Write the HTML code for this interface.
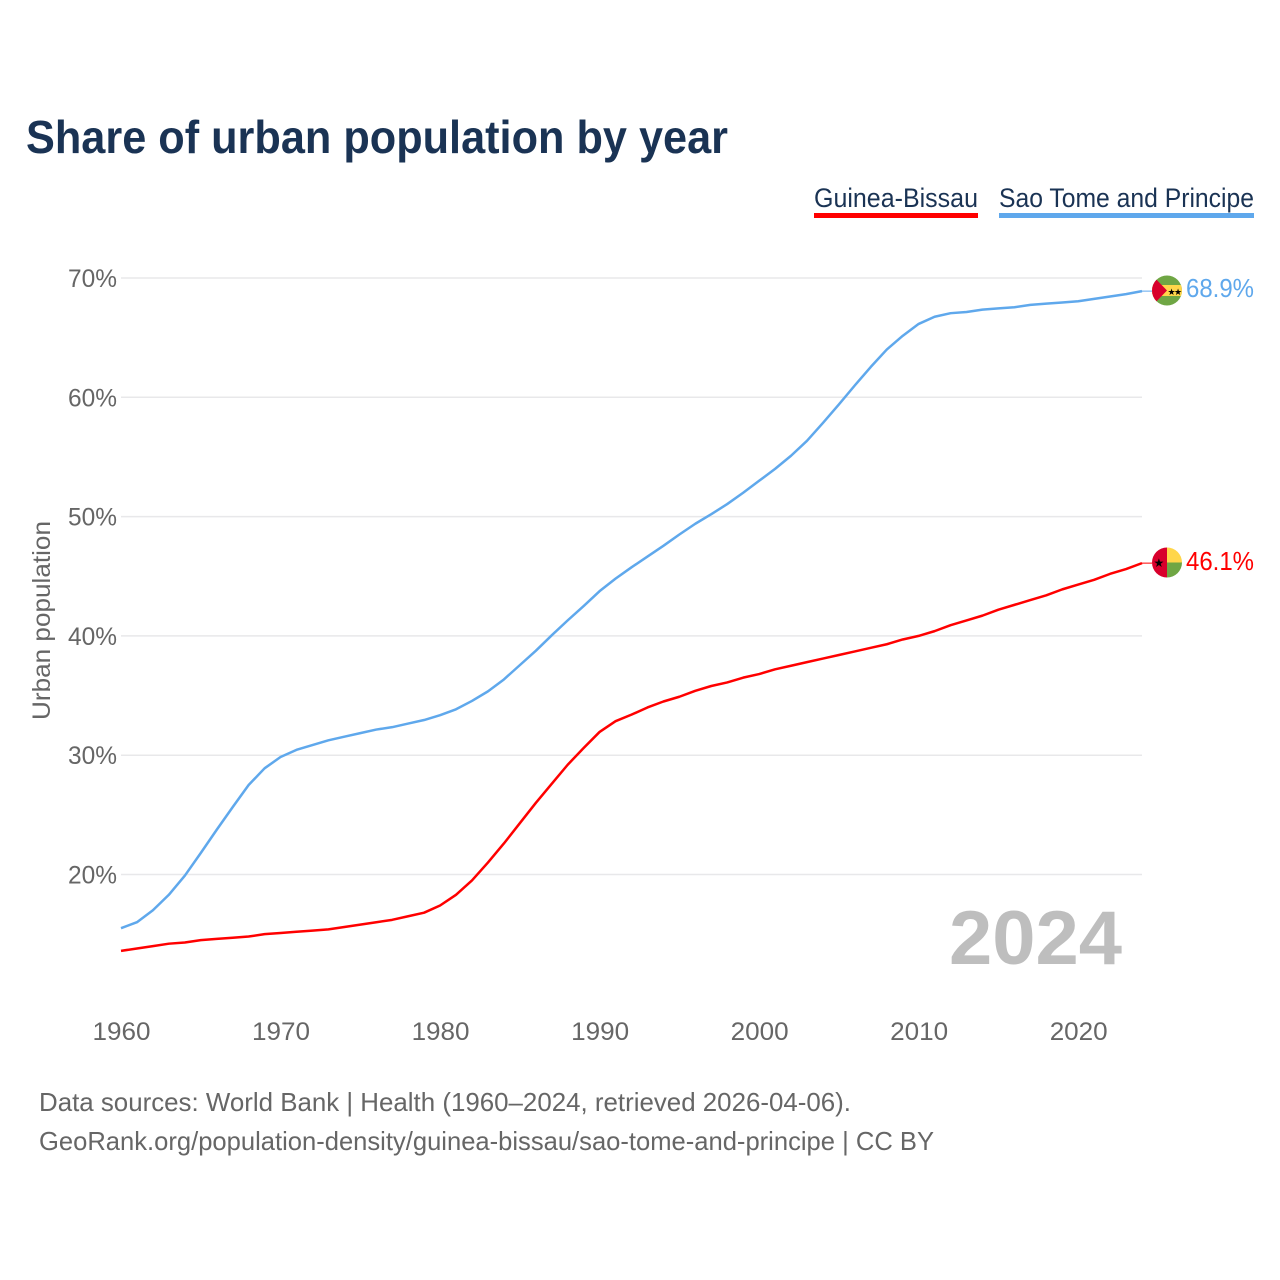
<!DOCTYPE html>
<html lang="en">
<head>
<meta charset="utf-8">
<title>Share of urban population by year</title>
<style>
html,body{margin:0;padding:0;background:#fff;width:1280px;height:1280px;overflow:hidden}
svg{display:block}
text{font-family:"Liberation Sans",sans-serif}
</style>
</head>
<body>
<svg id="chart" width="1280" height="1280" viewBox="0 0 1280 1280" xmlns="http://www.w3.org/2000/svg">
  <rect x="0" y="0" width="1280" height="1280" fill="#fff"/>
  <text x="26" y="153" font-size="46" font-weight="700" fill="#1a3354" textLength="702" lengthAdjust="spacingAndGlyphs">Share of urban population by year</text>

  <g>
    <text x="814" y="207" font-size="27" fill="#1a3354" textLength="164" lengthAdjust="spacingAndGlyphs">Guinea-Bissau</text>
    <rect x="814" y="213" width="164" height="5" fill="#ff0000"/>
  </g>
  <g>
    <text x="999" y="207" font-size="27" fill="#1a3354" textLength="255" lengthAdjust="spacingAndGlyphs">Sao Tome and Principe</text>
    <rect x="999" y="213" width="255" height="5" fill="#5fa8ec"/>
  </g>

  <g id="grid"></g>
  <g id="yticks"></g>
  <g id="xticks"></g>
  <text transform="translate(50,720) rotate(-90)" font-size="25" fill="#666" textLength="199" lengthAdjust="spacingAndGlyphs">Urban population</text>

  <text x="949" y="964" font-size="76" font-weight="700" fill="#bebebe" textLength="173" lengthAdjust="spacingAndGlyphs">2024</text>

  <g id="series"></g>

  <defs>
    <clipPath id="clip-stp"><circle cx="1167" cy="290.5" r="15"/></clipPath>
    <clipPath id="clip-gb"><circle cx="1167" cy="562.5" r="15"/></clipPath>
  </defs>

  <g clip-path="url(#clip-stp)">
    <rect x="1152" y="275" width="30" height="31" fill="#6fa644"/>
    <rect x="1152" y="285" width="30" height="11" fill="#ffd64a"/>
    <polygon points="1152,275 1167,290.5 1152,306" fill="#d8002c"/>
    <text x="1167.5" y="295" font-size="9" fill="#000">★</text>
    <text x="1174" y="295" font-size="9" fill="#000">★</text>
  </g>
  <g clip-path="url(#clip-gb)">
    <rect x="1152" y="547" width="15" height="31" fill="#d8002c"/>
    <rect x="1167" y="547" width="15" height="15.5" fill="#ffd64a"/>
    <rect x="1167" y="562.5" width="15" height="15.5" fill="#6fa644"/>
    <text x="1153.5" y="567" font-size="12" fill="#000">★</text>
  </g>

  <text x="1186" y="297" font-size="26" fill="#5fa8ec" textLength="68" lengthAdjust="spacingAndGlyphs">68.9%</text>
  <text x="1186" y="570" font-size="26" fill="#ff0000" textLength="68" lengthAdjust="spacingAndGlyphs">46.1%</text>

  <text x="39" y="1111" font-size="26" fill="#666" textLength="812" lengthAdjust="spacingAndGlyphs">Data sources: World Bank | Health (1960–2024, retrieved 2026-04-06).</text>
  <text x="39" y="1150" font-size="26" fill="#666" textLength="895" lengthAdjust="spacingAndGlyphs">GeoRank.org/population-density/guinea-bissau/sao-tome-and-principe | CC BY</text>
</svg>
<script>
const startYear = 1960;
const yTickValues = [20, 30, 40, 50, 60, 70];
const xTickValues = [1960, 1970, 1980, 1990, 2000, 2010, 2020];
const guineaBissau = [13.6,13.8,14.0,14.2,14.3,14.5,14.6,14.7,14.8,15.0,15.1,15.2,15.3,15.4,15.6,15.8,16.0,16.2,16.5,16.8,17.4,18.3,19.5,21.0,22.6,24.3,26.0,27.6,29.2,30.6,31.95,32.85,33.4,34.0,34.5,34.9,35.4,35.8,36.1,36.5,36.8,37.2,37.5,37.8,38.1,38.4,38.7,39.0,39.3,39.7,40.0,40.4,40.9,41.3,41.7,42.2,42.6,43.0,43.4,43.9,44.3,44.7,45.2,45.6,46.1];
const saoTome = [15.5,16.0,17.0,18.3,19.9,21.8,23.75,25.65,27.5,28.9,29.85,30.45,30.85,31.25,31.55,31.85,32.15,32.35,32.65,32.95,33.35,33.85,34.55,35.35,36.35,37.55,38.75,40.05,41.3,42.5,43.75,44.8,45.75,46.65,47.55,48.5,49.4,50.2,51.05,52.0,53.0,54.0,55.1,56.35,57.85,59.4,61.0,62.55,64.0,65.15,66.15,66.75,67.05,67.15,67.35,67.45,67.55,67.75,67.85,67.95,68.05,68.25,68.45,68.65,68.9];

const NS = 'http://www.w3.org/2000/svg';
function xScale(year) { return 121 + (year - 1960) * (1142 - 121) / 64; }
function yScale(v) { return 278 + (70 - v) * (874.5 - 278) / 50; }

const grid = document.getElementById('grid');
const yticks = document.getElementById('yticks');
const xticks = document.getElementById('xticks');
const series = document.getElementById('series');

yTickValues.forEach(function (v) {
  const line = document.createElementNS(NS, 'line');
  
  
  line.setAttribute('x1', 121);
  line.setAttribute('x2', 1142);
  line.setAttribute('y1', yScale(v));
  line.setAttribute('y2', yScale(v));
  line.setAttribute('stroke', '#e8e8ea');
  line.setAttribute('stroke-width', 1.5);
  grid.appendChild(line);

  const t = document.createElementNS(NS, 'text');
  
  
  t.setAttribute('x', 68);
  t.setAttribute('y', yScale(v) + 9);
  t.setAttribute('font-size', 25);
  t.setAttribute('fill', '#666');
  t.setAttribute('textLength', 49);
  t.setAttribute('lengthAdjust', 'spacingAndGlyphs');
  t.textContent = v + '%';
  yticks.appendChild(t);
});

xTickValues.forEach(function (yr) {
  const t = document.createElementNS(NS, 'text');
  
  
  t.setAttribute('x', xScale(yr) - 28.5);
  t.setAttribute('y', 1040);
  t.setAttribute('font-size', 25);
  t.setAttribute('fill', '#666');
  t.setAttribute('textLength', 58);
  t.setAttribute('lengthAdjust', 'spacingAndGlyphs');
  t.textContent = yr;
  xticks.appendChild(t);
});

function toPoints(values) {
  return values.map(function (v, i) {
    return xScale(startYear + i).toFixed(2) + ',' + yScale(v).toFixed(2);
  }).join(' ');
}

const lineSao = document.createElementNS(NS, 'polyline');


lineSao.setAttribute('points', toPoints(saoTome));
lineSao.setAttribute('fill', 'none');
lineSao.setAttribute('stroke', '#5fa8ec');
lineSao.setAttribute('stroke-width', 2.5);
lineSao.setAttribute('stroke-linejoin', 'round');
series.appendChild(lineSao);

const lineGb = document.createElementNS(NS, 'polyline');


lineGb.setAttribute('points', toPoints(guineaBissau));
lineGb.setAttribute('fill', 'none');
lineGb.setAttribute('stroke', '#ff0000');
lineGb.setAttribute('stroke-width', 2.5);
lineGb.setAttribute('stroke-linejoin', 'round');
series.appendChild(lineGb);

const connSao = document.createElementNS(NS, 'line');


connSao.setAttribute('x1', xScale(2024));
connSao.setAttribute('x2', 1152);
connSao.setAttribute('y1', yScale(saoTome[saoTome.length - 1]));
connSao.setAttribute('y2', yScale(saoTome[saoTome.length - 1]));
connSao.setAttribute('stroke', '#5fa8ec');
connSao.setAttribute('stroke-width', 1);
series.appendChild(connSao);

const connGb = document.createElementNS(NS, 'line');


connGb.setAttribute('x1', xScale(2024));
connGb.setAttribute('x2', 1152);
connGb.setAttribute('y1', yScale(guineaBissau[guineaBissau.length - 1]));
connGb.setAttribute('y2', yScale(guineaBissau[guineaBissau.length - 1]));
connGb.setAttribute('stroke', '#ff0000');
connGb.setAttribute('stroke-width', 1);
series.appendChild(connGb);
</script>
</body>
</html>
